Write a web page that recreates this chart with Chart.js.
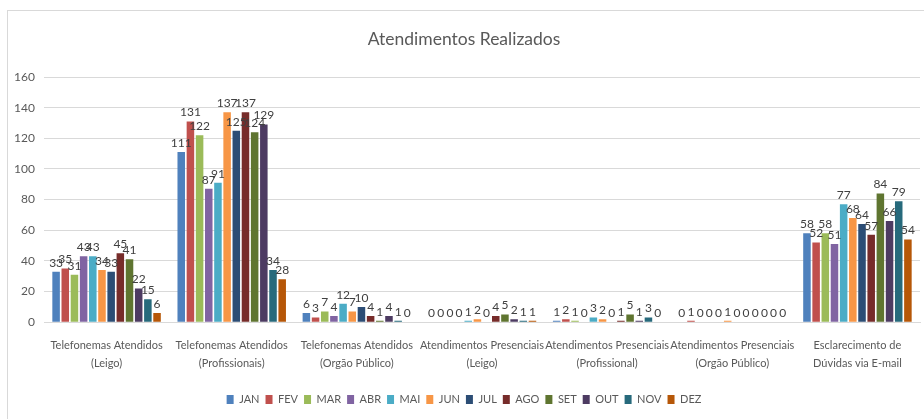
<!DOCTYPE html>
<html>
<head>
<meta charset="utf-8">
<script src="https://cdn.jsdelivr.net/npm/chart.js@4/dist/chart.umd.min.js"></script>
<style>
  html, body { margin: 0; padding: 0; background: #fff; }
  #frame { position: absolute; left: 7px; top: 10px; width: 940px; height: 430px; border: 1px solid #d9d9d9; }
  #wrap { position: absolute; left: 0; top: 0; width: 924px; height: 419px; }
</style>
</head>
<body>
<div id="frame"></div>
<div id="wrap"><canvas id="barChart"></canvas></div>
<script>
var categories = [
  ['Telefonemas Atendidos', '(Leigo)'],
  ['Telefonemas Atendidos', '(Profissionais)'],
  ['Telefonemas Atendidos', '(Orgão Público)'],
  ['Atendimentos Presenciais', '(Leigo)'],
  ['Atendimentos Presenciais', '(Profissional)'],
  ['Atendimentos Presenciais', '(Orgão Público)'],
  ['Esclarecimento de', 'Dúvidas via E-mail']
];
var months = ['JAN', 'FEV', 'MAR', 'ABR', 'MAI', 'JUN', 'JUL', 'AGO', 'SET', 'OUT', 'NOV', 'DEZ'];
var colors = ['#4f81bd', '#c0504d', '#9bbb59', '#8064a2', '#4bacc6', '#f79646',
              '#2c4d75', '#772c2a', '#5f7530', '#4d3b62', '#276a7c', '#b65708'];

// valores por mês, na ordem das categorias
var jan = [33, 111, 6, 0, 1, 0, 58];
var fev = [35, 131, 3, 0, 2, 1, 52];
var mar = [31, 122, 7, 0, 1, 0, 58];
var abr = [43, 87, 4, 0, 0, 0, 51];
var mai = [43, 91, 12, 1, 3, 0, 77];
var jun = [34, 137, 7, 2, 2, 1, 68];
var jul = [33, 125, 10, 0, 0, 0, 64];
var ago = [45, 137, 4, 4, 1, 0, 57];
var set = [41, 124, 1, 5, 5, 0, 84];
var out = [22, 129, 4, 2, 1, 0, 66];
var nov = [15, 34, 1, 1, 3, 0, 79];
var dez = [6, 28, 0, 1, 0, 0, 54];
var series = [jan, fev, mar, abr, mai, jun, jul, ago, set, out, nov, dez];

var yTicks = [0, 20, 40, 60, 80, 100, 120, 140, 160];

var fontName = 'Lato, "Liberation Sans", sans-serif';
Chart.defaults.font.family = fontName;
Chart.defaults.color = '#595959';

var valueLabels = {
  id: 'valueLabels',
  afterDatasetsDraw: function(chart) {
    var ctx = chart.ctx;
    ctx.save();
    ctx.font = '12px ' + fontName;
    ctx.fillStyle = '#404040';
    ctx.textAlign = 'center';
    ctx.textBaseline = 'bottom';
    chart.data.datasets.forEach(function(ds, i) {
      chart.getDatasetMeta(i).data.forEach(function(bar, j) {
        ctx.fillText(ds.data[j], bar.x, bar.y - 3);
      });
    });
    ctx.restore();
  }
};

window.onload = function() {
  var ctx = document.getElementById('barChart').getContext('2d');
  var datasets = [];
  for (var i = 0; i < months.length; i++) {
    datasets.push({
      label: months[i],
      data: series[i],
      backgroundColor: colors[i],
      borderWidth: 0
    });
  }

  var barChart = new Chart(ctx, {
    type: 'bar',
    data: { labels: categories, datasets: datasets },
    plugins: [valueLabels],
    options: {
      responsive: true,
      maintainAspectRatio: false,
      animation: false,
      categoryPercentage: 0.88,
      barPercentage: 0.82,
      layout: { padding: { left: 8, right: 4, top: 0, bottom: 4 } },
      plugins: {
        title: {
          display: true,
          text: 'Atendimentos Realizados',
          color: '#595959',
          font: { size: 17.5, weight: 'normal' },
          padding: { top: 29, bottom: 27 }
        },
        legend: {
          position: 'bottom',
          labels: {
            boxWidth: 7,
            boxHeight: 9,
            padding: 6,
            color: '#595959',
            font: { size: 11 }
          }
        },
        tooltip: { enabled: false }
      },
      scales: {
        x: {
          grid: { display: false },
          border: { color: '#d9d9d9' },
          afterFit: function(scale) { scale.height += 8.5; },
          ticks: { color: '#595959', font: { size: 11, lineHeight: 1.65 }, maxRotation: 0, autoSkip: false, padding: 6.5 }
        },
        y: {
          min: 0,
          max: 160,
          afterBuildTicks: function(scale) {
            scale.ticks = yTicks.map(function(v) { return { value: v }; });
          },
          afterFit: function(scale) { scale.width = 36; },
          grid: { color: '#d9d9d9', drawTicks: false },
          border: { display: false },
          ticks: { color: '#595959', font: { size: 12 }, padding: 9 }
        }
      }
    }
  });
};
</script>
</body>
</html>
